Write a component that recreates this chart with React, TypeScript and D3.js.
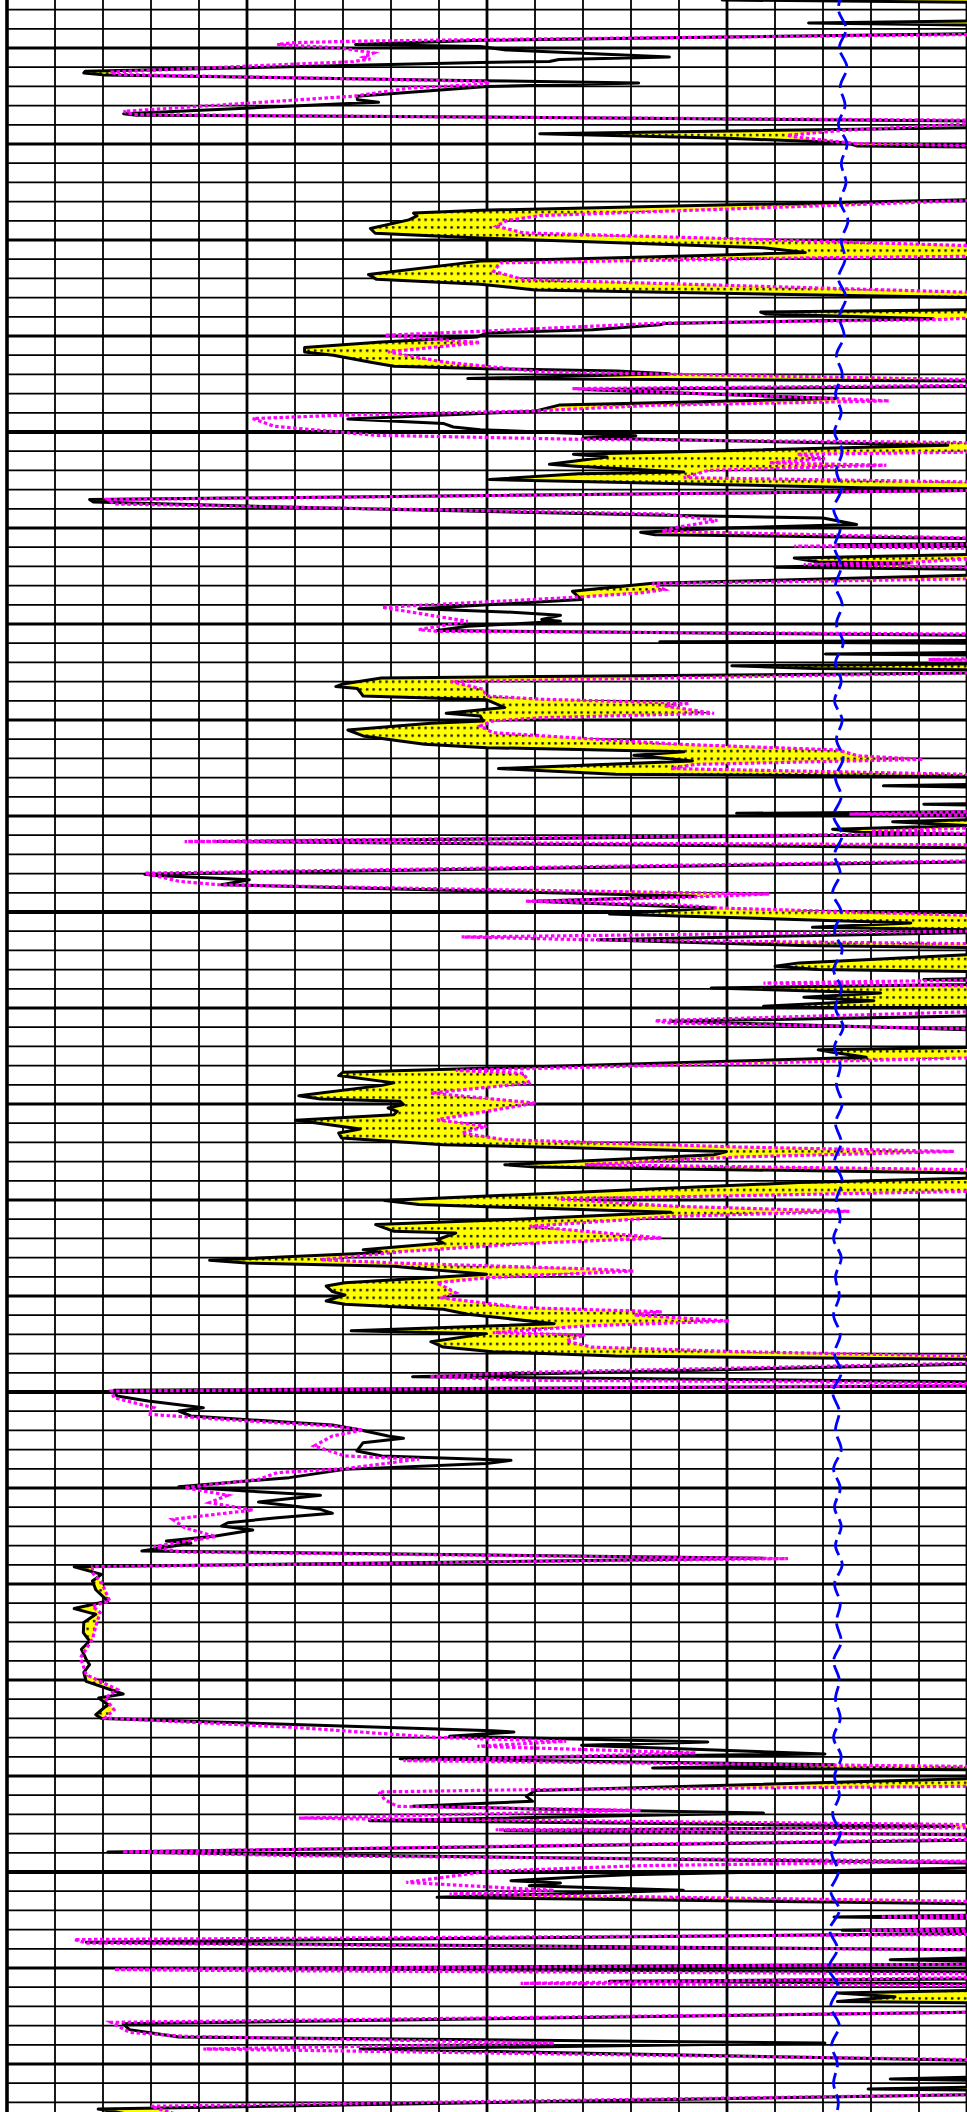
import React, { useEffect, useRef } from 'react';
import * as d3 from 'd3';

const WIDTH = 967;
const HEIGHT = 2112;
const TOP_DEPTH = 2002.5;
const BASE_DEPTH = 2112.5;
const VALUE_MIN = 0;
const VALUE_MAX = 200;

// deep reading (black), [depth m, value] - values past 200 run off the track
const deepCurve: [number, number][] = [
	[2002.35, 215], [2002.5, 149], [2002.65, 215],
	[2003.55, 215], [2003.7, 167], [2003.85, 215],
	[2004.2, 215], [2004.6, 99], [2004.82, 72.6], [2004.92, 98.6], [2005.1, 104], [2005.47, 138], [2005.6, 115], [2005.7, 113], [2005.75, 98.6], [2006.21, 16.3], [2006.3, 16], [2006.4, 20], [2006.7, 98.6], [2006.82, 131.6], [2007.0, 100], [2007.51, 72.9], [2007.69, 73], [2007.83, 77.4], [2007.9, 70], [2008.42, 24.3], [2008.5, 27], [2008.6, 98.6], [2008.8, 200], [2008.9, 215],
	[2009.1, 215], [2009.46, 111], [2009.7, 150], [2009.94, 175], [2010.1, 177], [2010.2, 215],
	[2012.75, 215], [2012.9, 200], [2013.45, 98.6], [2013.6, 84.7], [2013.75, 85.4], [2013.95, 83.7], [2014.4, 75.7], [2014.65, 76.7], [2014.9, 98.6], [2015.4, 157.6], [2015.65, 166.3], [2015.8, 147], [2016.1, 98.6], [2016.8, 75.3], [2017.05, 77], [2017.3, 98.6], [2017.6, 110], [2018.0, 200], [2018.1, 215],
	[2018.6, 215], [2018.75, 157], [2018.85, 158], [2019.1, 193], [2019.35, 137], [2019.42, 136], [2019.67, 122], [2019.84, 100], [2020.05, 98], [2020.31, 78], [2020.6, 62], [2020.83, 62], [2021.0, 68], [2021.35, 75.5], [2021.58, 80.6], [2021.7, 100], [2021.82, 127], [2021.96, 138], [2022.22, 96], [2022.34, 200], [2022.45, 215],
	[2022.6, 215], [2022.79, 120], [2023.26, 173], [2023.6, 115], [2023.92, 110], [2024.32, 71], [2024.56, 91], [2024.74, 93], [2024.88, 98.6], [2025.19, 131], [2025.31, 120], [2025.69, 196], [2026.16, 118], [2026.3, 125], [2026.68, 113], [2026.78, 118.5], [2027.08, 141], [2027.17, 119], [2027.48, 100.5], [2027.9, 178], [2027.98, 210],
	[2028.05, 200], [2028.52, 17.2], [2028.65, 18], [2028.92, 60], [2029.34, 137], [2029.48, 170], [2029.82, 177], [2030.0, 150], [2030.22, 132], [2030.35, 135], [2030.55, 200], [2030.65, 215],
	[2030.78, 215], [2030.87, 173], [2030.97, 215],
	[2031.3, 215], [2031.56, 164], [2031.77, 169], [2031.82, 188], [2032.05, 160], [2032.15, 200], [2032.25, 215],
	[2032.4, 215], [2032.46, 200], [2032.74, 157.6], [2032.88, 134.5], [2033.3, 117.8], [2033.73, 119.7], [2034.2, 85.8], [2034.37, 103.7], [2034.55, 115.3], [2034.77, 111.4], [2034.86, 115.3], [2035.12, 96], [2035.34, 89.6], [2035.59, 200], [2035.7, 215],
	[2035.85, 215], [2035.93, 136], [2036.02, 215],
	[2036.45, 215], [2036.56, 170.5], [2036.65, 215],
	[2037.05, 215], [2037.17, 151], [2037.32, 168], [2037.42, 215], [2037.55, 200], [2037.81, 78], [2038.12, 70],
	[2038.26, 68.5], [2038.36, 73], [2038.75, 74.2], [2038.95, 100], [2039.35, 103.7], [2039.65, 91.5], [2039.79, 98.6], [2040.05, 99.2], [2040.17, 88.3], [2040.52, 71], [2040.83, 74.2], [2041.26, 87], [2041.44, 100], [2041.66, 141], [2041.84, 130.6], [2042.13, 142.8], [2042.53, 102.4], [2042.83, 126.8], [2042.95, 200], [2043.05, 215],
	[2043.3, 215], [2043.43, 182.6], [2043.55, 215],
	[2044.3, 215], [2044.39, 191], [2044.5, 215],
	[2044.75, 215], [2044.86, 152], [2044.97, 215],
	[2045.1, 215], [2045.3, 184.5], [2045.5, 200], [2045.69, 172], [2045.85, 178], [2045.95, 200], [2046.33, 43.5], [2046.65, 200], [2046.75, 215],
	[2047.3, 215], [2047.39, 200], [2048.03, 28.7], [2048.1, 31], [2048.32, 50.5], [2048.58, 44.7], [2049.18, 143.5], [2049.44, 109.5], [2049.79, 147.3], [2050.1, 125.5], [2050.57, 188.3], [2050.8, 167.8], [2050.92, 200], [2051.0, 215],
	[2051.08, 200], [2051.44, 123], [2051.74, 165], [2051.85, 200], [2051.95, 215],
	[2052.15, 215], [2052.22, 200], [2052.65, 165], [2052.83, 160], [2053.0, 169], [2053.1, 200], [2053.2, 215],
	[2053.4, 215], [2053.52, 191], [2053.62, 215], [2053.78, 200], [2053.96, 146.7], [2054.22, 182], [2054.44, 166], [2054.62, 180.6], [2054.91, 157.6], [2054.97, 200], [2055.05, 215],
	[2055.35, 215], [2055.69, 138.3], [2056.13, 200], [2056.2, 215],
	[2057.0, 215], [2057.17, 169], [2057.3, 172], [2057.57, 179], [2058.35, 70], [2058.52, 69.1], [2058.9, 80.6], [2059.03, 78.1], [2059.57, 60.8], [2059.74, 65.3], [2059.86, 81.9], [2060.03, 82.6], [2060.21, 79.4], [2060.38, 81.3], [2060.56, 80.6], [2060.85, 60.1], [2061.02, 65.3], [2061.3, 73.6], [2061.51, 69.1], [2061.77, 69.7], [2062.12, 90.9], [2062.47, 149.9], [2062.64, 147.3], [2063.16, 103.7], [2063.28, 110.1], [2063.59, 200], [2063.7, 215], [2063.8, 210], [2064.09, 165], [2065.03, 78.7], [2065.24, 85.8], [2065.64, 138.3], [2065.99, 107.6], [2066.28, 76.8], [2066.63, 80.6], [2066.72, 93.5], [2067.07, 89.6], [2067.24, 90.9], [2067.59, 74.2], [2067.73, 78.1], [2068.14, 42.2], [2068.28, 49.9], [2068.45, 80.6],
	[2068.55, 85], [2068.87, 99.9], [2069.31, 70.4], [2069.48, 66.5], [2069.77, 67.8], [2069.95, 70.4], [2070.09, 68.5], [2070.26, 66.5], [2070.43, 70.4], [2070.69, 90.9], [2070.95, 96], [2071.44, 114], [2071.81, 71.7], [2071.96, 99.9], [2072.38, 88.3], [2072.66, 90.9], [2072.9, 101.2], [2073.13, 126.8], [2073.3, 200], [2073.4, 215], [2073.55, 200], [2074.2, 84.5], [2074.46, 200], [2074.55, 215], [2074.69, 200], [2074.91, 22.3], [2075.21, 22.9], [2075.47, 29.4], [2075.82, 40.9], [2075.99, 35.8], [2076.25, 38.3], [2076.72, 67.8], [2076.94, 72.9], [2077.29, 79.4], [2077.41, 82.6], [2077.64, 74.2], [2078.07, 72.9], [2078.33, 78.1], [2078.56, 105],
	[2078.72, 99.9], [2079.03, 70.4], [2079.46, 58.8], [2079.93, 35.8], [2080.16, 49.9], [2080.38, 65.3], [2080.73, 52.4], [2081.11, 65.3], [2081.32, 67.8], [2081.55, 56.3], [2081.81, 46], [2081.98, 44.7], [2082.19, 51.2], [2082.5, 43.5], [2082.76, 33.2], [2082.88, 38.3], [2083.28, 28.1], [2083.66, 157.6], [2084.1, 14], [2084.5, 19.7], [2084.84, 17.8], [2085.3, 18.5], [2085.89, 21], [2086.28, 14], [2086.58, 18.5], [2087.0, 16], [2087.53, 15.9], [2087.97, 17.2], [2088.4, 15.5], [2088.92, 16.5],
	[2089.2, 17.2], [2089.6, 16], [2090.07, 16.5], [2090.73, 24.2], [2090.94, 19.1], [2091.28, 21], [2091.81, 18.5], [2092.01, 19.7], [2092.64, 101.2], [2092.71, 105.6], [2092.93, 92.2], [2093.23, 146], [2093.4, 119.7], [2093.85, 170.4], [2094.1, 81.9], [2094.41, 172.3], [2094.58, 134.5], [2094.67, 200], [2094.8, 215], [2095.0, 215], [2095.14, 200], [2095.76, 110.1], [2096.06, 108.2], [2096.32, 109.5], [2096.58, 84.5], [2096.7, 107.6], [2096.93, 157.6], [2097.33, 75.5], [2097.62, 197.3], [2097.85, 103.7], [2098.06, 200], [2098.2, 215], [2098.35, 200], [2098.96, 21],
	[2099.53, 200], [2099.65, 215], [2099.79, 200], [2100.14, 129.4], [2100.23, 121], [2100.45, 105], [2100.57, 115.3], [2100.71, 108.8], [2100.95, 140.9], [2101.32, 89.6], [2101.65, 200], [2101.75, 215],
	[2102.2, 215], [2102.34, 172.3], [2102.45, 215],
	[2102.9, 215], [2103.04, 174], [2103.12, 215], [2103.2, 200], [2103.66, 16.5], [2104.05, 200], [2104.15, 215],
	[2104.4, 215], [2104.57, 184], [2104.7, 215], [2104.8, 200], [2105.03, 39.6], [2105.2, 200], [2105.3, 215],
	[2105.55, 215], [2105.69, 125.5], [2105.85, 215],
	[2106.1, 215], [2106.3, 173], [2106.5, 185], [2106.74, 173], [2106.85, 215],
	[2107.2, 215], [2107.31, 200], [2107.9, 24.2], [2108.21, 25.5], [2108.59, 35.8], [2108.91, 170.4], [2109.22, 73.6], [2109.81, 200], [2109.9, 215],
	[2110.6, 215], [2110.78, 184], [2110.9, 215],
	[2111.15, 215], [2111.3, 179.4], [2111.4, 215],
	[2111.5, 215], [2111.6, 200], [2112.35, 19], [2112.6, 25]
];

// shallow reading (magenta dotted)
const shallowCurve: [number, number][] = [
	[2002.3, 215], [2004.2, 215], [2004.3, 200], [2004.56, 98.6], [2004.65, 72.2], [2004.72, 59.7], [2004.82, 56.3], [2005.0, 69.4], [2005.26, 76.4], [2005.47, 74.3], [2005.57, 75.7], [2005.71, 72.2], [2006.25, 21.5], [2006.38, 23], [2006.73, 98.6], [2006.8, 100.5], [2006.9, 98.6], [2007.08, 84], [2007.51, 72.2], [2008.3, 24.3], [2008.47, 26.4], [2008.6, 98.6], [2008.76, 200], [2008.85, 215], [2008.95, 200], [2009.3, 173.6], [2009.55, 162.5], [2009.65, 164.6], [2009.98, 177], [2010.08, 200], [2010.2, 215],
	[2012.8, 215], [2012.95, 200], [2013.73, 111], [2014.0, 104], [2014.28, 102], [2014.63, 107.6], [2014.98, 157.6], [2015.29, 200], [2015.4, 215], [2015.75, 215], [2015.85, 200], [2015.93, 166.7], [2016.19, 102.8], [2016.63, 101.4], [2017.06, 107.6], [2017.72, 200], [2017.85, 215],
	[2018.9, 215], [2019.15, 193.5], [2019.32, 137], [2019.74, 99.9], [2019.96, 78.7], [2020.1, 85], [2020.34, 98.6], [2020.83, 79.4], [2021.35, 90.9], [2021.87, 111.4], [2022.27, 200], [2022.4, 215], [2022.5, 215], [2022.57, 200], [2022.74, 117.8], [2023.26, 173], [2023.38, 183.8], [2023.61, 134.5], [2023.9, 110.1], [2024.13, 69.1], [2024.3, 51.2], [2024.7, 55.6], [2025.17, 76.8], [2025.38, 119.1], [2025.55, 200], [2025.65, 215], [2025.95, 215], [2026.05, 200], [2026.16, 164.6], [2026.39, 170.4], [2026.61, 158.8], [2026.73, 183.2], [2027.0, 146], [2027.38, 141], [2027.6, 200], [2027.7, 215],
	[2028.0, 215], [2028.05, 200], [2028.52, 21], [2028.75, 22.3], [2029.27, 137], [2029.61, 148], [2029.96, 139.6], [2030.17, 136.4], [2030.52, 200], [2030.6, 215], [2030.8, 215], [2030.95, 164], [2031.1, 215], [2031.4, 215], [2031.77, 189.6], [2031.9, 166], [2032.1, 215], [2032.55, 215], [2032.65, 200], [2032.9, 134.5], [2033.21, 137], [2033.38, 132], [2033.6, 119.1], [2034.13, 78.1], [2034.55, 88.3], [2034.86, 96], [2035.29, 85.8], [2035.38, 89.6], [2035.52, 200], [2035.6, 215],
	[2036.75, 215], [2036.85, 192], [2036.95, 215], [2037.5, 215], [2037.55, 200], [2038.0, 92.5], [2038.4, 99.2], [2038.75, 99.9], [2038.92, 111.4], [2039.13, 142.2], [2039.27, 137], [2039.65, 147.3], [2039.88, 111.4], [2040.05, 101.2], [2040.31, 98.6], [2040.66, 101.2], [2041.26, 139.6], [2041.56, 173], [2041.87, 177.4], [2042.05, 190.9], [2042.31, 143.5], [2042.53, 138.3], [2042.83, 200], [2042.95, 215],
	[2044.7, 215], [2044.9, 175.5], [2045.0, 215], [2045.5, 215], [2045.8, 180], [2045.9, 200], [2046.33, 37], [2046.5, 200], [2046.6, 215],
	[2047.25, 215], [2047.34, 200], [2047.98, 28.7], [2048.4, 35.8], [2048.58, 44.1], [2048.84, 101.2], [2049.06, 158.8], [2049.24, 141], [2049.44, 108], [2049.62, 139.6], [2049.79, 148], [2050.17, 200], [2050.3, 215],
	[2050.9, 215], [2051.0, 200], [2051.3, 94.7], [2051.45, 121.7], [2051.65, 200], [2051.75, 215],
	[2053.5, 215], [2053.7, 157.6], [2053.85, 200], [2053.95, 215],
	[2055.1, 215], [2055.2, 200], [2055.66, 135], [2055.78, 138], [2056.08, 200], [2056.2, 215],
	[2057.5, 215], [2057.6, 200], [2058.25, 93.5], [2058.4, 107.6], [2058.91, 108.8], [2059.43, 88.3], [2059.95, 110.1], [2060.82, 89.6], [2061.16, 99.9], [2061.51, 94.7], [2061.86, 103.7], [2062.24, 152.4], [2062.47, 197.3], [2062.76, 152.4], [2063.16, 120.4], [2063.42, 200], [2063.55, 215],
	[2064.4, 215], [2064.55, 200], [2064.95, 114.6], [2065.33, 139.6], [2065.59, 175.5], [2065.85, 139.6], [2066.37, 108.8], [2066.98, 136.4], [2067.24, 110.1], [2067.67, 83.2], [2068.11, 65.3], [2068.28, 80.6], [2068.59, 121.7], [2068.7, 130.6], [2069.05, 99.9], [2069.31, 89.6], [2069.83, 93.5], [2070.09, 90.3], [2070.61, 107.6], [2070.82, 136.4], [2070.99, 130.6], [2071.3, 150.5], [2071.56, 120.4], [2071.91, 101.2], [2072.03, 120.4], [2072.34, 116.5], [2072.66, 121.7], [2072.9, 152.4], [2073.13, 200], [2073.25, 215],
	[2073.4, 215], [2073.5, 200], [2073.99, 106.3], [2074.2, 88], [2074.39, 108.8], [2074.46, 166], [2074.55, 200], [2074.65, 200], [2074.95, 21.7], [2075.3, 22.3], [2075.82, 30.6], [2076.16, 29.4], [2076.51, 49.9], [2076.77, 67.8], [2076.98, 74.2], [2077.29, 67.8], [2077.81, 64], [2078.33, 70.4], [2078.5, 85.8], [2078.99, 70.4], [2079.2, 56.3], [2079.55, 52.4], [2079.98, 37], [2080.38, 46], [2080.76, 42.2], [2081.15, 51.2], [2081.63, 34.5], [2082.07, 37], [2082.53, 43.5], [2083.05, 30.6], [2083.33, 35.8], [2083.68, 162.7], [2084.1, 17.8], [2084.41, 17.8], [2084.93, 19.7], [2085.89, 21.4], [2086.15, 17.8], [2086.49, 19.4], [2087.19, 18.5], [2087.88, 17.8], [2088.84, 15.3], [2089.72, 16.5], [2090.5, 23], [2090.94, 20.4], [2091.55, 22.3], [2091.98, 20.4], [2092.47, 60.1], [2092.99, 89.6], [2093.19, 116.5], [2093.45, 98], [2093.8, 143.5], [2094.2, 82.6], [2094.5, 200], [2094.6, 215],
	[2095.4, 215], [2095.54, 200], [2095.71, 108.8], [2095.83, 77.4], [2096.23, 78.7], [2096.58, 81.3], [2096.79, 132], [2097.19, 60.8], [2097.24, 75.5], [2097.53, 200], [2097.65, 215], [2097.7, 200], [2097.8, 101.8], [2098.06, 200], [2098.2, 215], [2098.3, 200], [2098.95, 24], [2099.15, 60], [2099.44, 200], [2099.67, 132], [2099.97, 99.9], [2100.54, 83.2], [2100.89, 108.8], [2100.95, 114], [2101.15, 92.2], [2101.53, 200], [2101.65, 215],
	[2102.2, 215], [2102.34, 182], [2102.45, 215], [2102.9, 215], [2103.04, 178], [2103.12, 215], [2103.2, 215], [2103.25, 200], [2103.52, 14], [2103.7, 16.6], [2104.05, 200], [2104.15, 215],
	[2104.75, 215], [2104.8, 200], [2105.08, 22.3], [2105.12, 39], [2105.3, 200], [2105.4, 215], [2105.5, 200], [2105.8, 107], [2105.9, 200], [2106.0, 215],
	[2107.2, 215], [2107.31, 200], [2107.83, 21.7], [2108.35, 25.5], [2108.56, 37], [2108.91, 114], [2109.22, 40.9], [2109.77, 200], [2109.9, 215],
	[2111.5, 215], [2111.6, 200], [2112.2, 30], [2112.6, 35]
];

// blue dashed trace, one reading per metre from 2002 m
const blueStartDepth = 2002;
const blueValues = [
	174.2, 173.2, 174.8, 173.4, 175.0, 173.6, 174.6, 173.2, 175.0, 173.8,
	174.8, 173.6, 175.2, 173.8, 174.6, 173.2, 174.8, 173.4, 174.4, 172.8,
	174.0, 172.6, 173.8, 172.4, 174.0, 172.8, 173.8, 172.2, 173.6, 172.4,
	173.8, 172.6, 174.0, 172.8, 174.2, 172.6, 173.8, 172.4, 174.0, 172.8,
	174.2, 172.6, 173.8, 172.2, 174.0, 172.4, 173.6, 172.0, 173.8, 172.4,
	174.0, 172.2, 173.8, 172.6, 174.2, 172.4, 173.6, 172.8, 174.0, 172.6,
	173.8, 172.4, 174.0, 172.8, 173.6, 172.2, 173.8, 172.6, 173.4, 172.2,
	173.6, 172.4, 173.8, 172.0, 173.4, 172.6, 173.8, 172.2, 173.6, 172.4,
	173.8, 172.6, 174.0, 172.4, 173.6, 172.8, 173.8, 172.2, 173.4, 172.6,
	173.6, 172.2, 173.8, 172.4, 173.4, 172.0, 173.6, 171.8, 173.2, 171.6,
	173.4, 171.4, 173.0, 171.2, 173.2, 171.6, 173.4, 171.8, 173.0, 172.2, 173.2, 172.4
];

const gridDepths = d3.range(2003, 2113);
const gridValues = d3.range(VALUE_MIN, VALUE_MAX + 1, 10);

export default function App() {
	const ref = useRef<SVGSVGElement>(null);

	useEffect(() => {
		const svg = d3.select(ref.current);
		svg.selectAll('*').remove();

		const x = d3.scaleLinear().domain([VALUE_MIN, VALUE_MAX]).range([7, WIDTH]);
		const y = d3.scaleLinear().domain([TOP_DEPTH, BASE_DEPTH]).range([0, HEIGHT]);

		const defs = svg.append('defs');
		const pat = defs
			.append('pattern')
			.attr('id', 'sandDots')
			.attr('patternUnits', 'userSpaceOnUse')
			.attr('width', 6.5)
			.attr('height', 7.7);
		pat.append('rect').attr('width', 6.5).attr('height', 7.7).attr('fill', '#ffff00');
		pat.append('rect').attr('x', 2).attr('y', 3).attr('width', 2.3).attr('height', 2.3).attr('fill', '#000');

		defs
			.append('clipPath')
			.attr('id', 'track')
			.append('rect')
			.attr('x', x(VALUE_MIN))
			.attr('y', 0)
			.attr('width', x(VALUE_MAX) - x(VALUE_MIN))
			.attr('height', HEIGHT);

		svg.append('rect').attr('width', WIDTH).attr('height', HEIGHT).attr('fill', '#fff');

		// grid
		const grid = svg.append('g');
		grid
			.selectAll('line.h')
			.data(gridDepths)
			.enter()
			.append('line')
			.attr('x1', x(VALUE_MIN))
			.attr('x2', x(VALUE_MAX))
			.attr('y1', d => y(d))
			.attr('y2', d => y(d))
			.attr('stroke', '#000')
			.attr('stroke-width', d => (d % 25 === 0 ? 4 : d % 5 === 0 ? 3 : 1.8));
		grid
			.selectAll('line.v')
			.data(gridValues)
			.enter()
			.append('line')
			.attr('x1', d => x(d))
			.attr('x2', d => x(d))
			.attr('y1', 0)
			.attr('y2', HEIGHT)
			.attr('stroke', '#000')
			.attr('stroke-width', d => (d === 0 ? 3.6 : d % 50 === 0 ? 2.8 : 1.8));

		const plot = svg.append('g').attr('clip-path', 'url(#track)');

		// crossover fill where the deep curve reads lower than the shallow one
		const deepAt = d3.scaleLinear().domain(deepCurve.map(d => d[0])).range(deepCurve.map(d => d[1])).clamp(true);
		const shallowAt = d3
			.scaleLinear()
			.domain(shallowCurve.map(d => d[0]))
			.range(shallowCurve.map(d => d[1]))
			.clamp(true);
		const samples = d3.range(TOP_DEPTH, BASE_DEPTH + 0.005, 0.01);
		const fillArea = d3
			.area<number>()
			.y(d => y(d))
			.x0(d => x(deepAt(d)))
			.x1(d => x(shallowAt(d)))
			.defined(d => deepAt(d) < shallowAt(d));
		plot.append('path').attr('d', fillArea(samples)).attr('fill', 'url(#sandDots)');

		const curve = d3
			.line<[number, number]>()
			.x(d => x(d[1]))
			.y(d => y(d[0]));

		plot
			.append('path')
			.attr('d', curve(deepCurve))
			.attr('fill', 'none')
			.attr('stroke', '#000')
			.attr('stroke-width', 3)
			.attr('stroke-linejoin', 'round');

		plot
			.append('path')
			.attr('d', curve(shallowCurve))
			.attr('fill', 'none')
			.attr('stroke', '#ff00ff')
			.attr('stroke-width', 3.2)
			.attr('stroke-dasharray', '3.5 2.5');

		const blue = d3
			.line<number>()
			.x(d => x(d))
			.y((d, i) => y(blueStartDepth + i))
			.curve(d3.curveCatmullRom);
		plot
			.append('path')
			.attr('d', blue(blueValues))
			.attr('fill', 'none')
			.attr('stroke', '#0000ff')
			.attr('stroke-width', 2.8)
			.attr('stroke-dasharray', '16 6');
	}, []);

	return (
		<svg
			ref={ref}
			width={WIDTH}
			height={HEIGHT}
			style={{ position: 'absolute', left: 0, top: 0, display: 'block' }}
		/>
	);
}
